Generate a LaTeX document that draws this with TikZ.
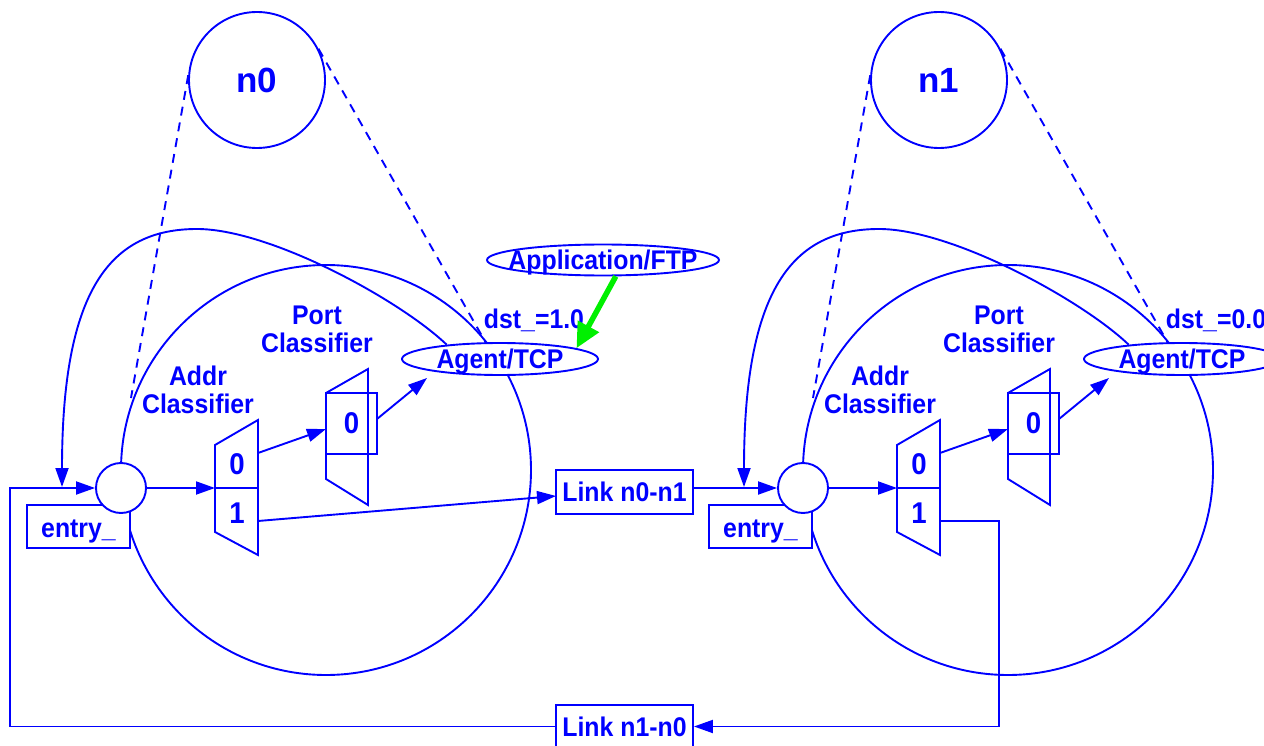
\documentclass[tikz,border=0pt]{standalone}
\usepackage{fontspec}
\setmainfont[FakeStretch=0.92]{Liberation Sans}
\newfontfamily\nfont{Liberation Sans}
\usetikzlibrary{shapes.geometric,arrows.meta,calc}
\definecolor{fblue}{RGB}{0,0,255}
\definecolor{fgreen}{RGB}{0,240,0}
\tikzset{
  ln/.style={draw=fblue, line width=1.9pt},
  txt/.style={text=fblue, font=\fontsize{27}{28}\selectfont\bfseries, inner sep=0pt, align=center},
  dig/.style={txt, font=\fontsize{30}{30}\selectfont\bfseries},
  box/.style={ln, txt, rectangle, fill=white},
  arr/.style={ln, -{Triangle[length=19pt,width=13pt]}},
  dsh/.style={ln, dash pattern=on 9pt off 7pt},
  garr/.style={draw=fgreen, line width=5.5pt, -{Triangle[length=25pt,width=23pt]}},
}
\begin{document}
\begin{tikzpicture}[x=1pt,y=-1pt]
\useasboundingbox (0,0) rectangle (1264,746);
\foreach \i/\dx/\dst in {0/0/1.0,1/682/0.0}{
\begin{scope}[xshift=\dx pt]
  % coordinates
  \coordinate (dl\i) at (131,398);
  \coordinate (da\i) at (486,343);
  \coordinate (ain\i) at (215,488);
  \coordinate (s0r\i) at (258,453);
  \coordinate (pin\i) at (326,429);
  \coordinate (pout\i) at (377,419);
  \coordinate (ain2\i) at (427,378);
  \coordinate (ct\i) at (62,487);
  \coordinate (top\i) at (197,229);
  \coordinate (s1r\i) at (258,521);
  % big node circle
  \node[ln, circle, minimum size=410pt] (big\i) at (326,470) {};
  % small node circle
  \node[ln, circle, minimum size=136pt, txt, font=\nfont\fontsize{35}{36}\selectfont\bfseries] (n\i) at (257,80) {n\i};
  \draw[dsh] (n\i.176) -- (dl\i);
  \draw[dsh] (n\i.27) -- (da\i);
  % entry
  \node[box, minimum width=103pt, minimum height=43pt, text height=21pt, text depth=0pt] (eb\i) at (78.5,526.5) {entry\_};
  \node[ln, circle, minimum size=50pt, fill=white] (e\i) at (121,488) {};
  % labels
  \node[txt] (la\i) at (198,390) {Addr\\Classifier};
  \node[txt] (lp\i) at (317,329) {Port\\Classifier};
  \node[txt] (dst\i) at (534,320) {dst\_=\dst};
  % addr classifier
  \draw[ln] (215,445) -- (258,420) -- (258,555) -- (215,532) -- cycle;
  \draw[ln] (215,488) -- (258,488);
  \node[dig] (s0\i) at (237,464) {0};
  \node[dig] (s1\i) at (237,513) {1};
  % port classifier
  \draw[ln] (326,393) -- (368,369) -- (368,505) -- (326,479) -- cycle;
  \node[ln, dig, rectangle, minimum width=51pt, minimum height=61pt] (p\i) at (351.5,423.5) {0};
  % agent
  \node[ln, ellipse, fill=white, minimum width=196pt, minimum height=32pt, txt, text depth=0pt] (agent\i) at (500,359) {Agent/TCP};
  % arrows
  \draw[arr] (e\i.east) -- (ain\i);
  \draw[arr] (s0r\i) -- (pin\i);
  \draw[arr] (pout\i) -- (ain2\i);
  \draw[arr] (agent\i.165) .. controls (400,300) and (270,229) .. (top\i)
                           .. controls (110,229) and (62,290) .. (ct\i);
\end{scope}
}
\node[ln, ellipse, fill=white, minimum width=232pt, minimum height=31pt, txt, text depth=0pt, inner xsep=-14pt] (app) at (603,260) {Application/FTP};
\draw[garr] (app.-52) -- (agent0.8);
\node[box, minimum width=137pt, minimum height=44pt, text height=19pt, text depth=0pt] (l01) at (624.5,492) {Link n0-n1};
\node[box, minimum width=137pt, minimum height=43pt, text height=19pt, text depth=0pt] (l10) at (624.5,726.5) {Link n1-n0};
\coordinate (l01in) at (556,496);
\coordinate (l01out) at (693,488);
\coordinate (c1) at (999,521);
\coordinate (c2) at (999,726.5);
\coordinate (c3) at (10,726.5);
\coordinate (c4) at (10,488);
\draw[arr] (s1r0) -- (l01in);
\draw[arr] (l01out) -- (e1.west);
\draw[arr] (s1r1) -- (c1) -- (c2) -- (l10.east);
\draw[arr] (l10.west) -- (c3) -- (c4) -- (e0.west);
\end{tikzpicture}
\end{document}
